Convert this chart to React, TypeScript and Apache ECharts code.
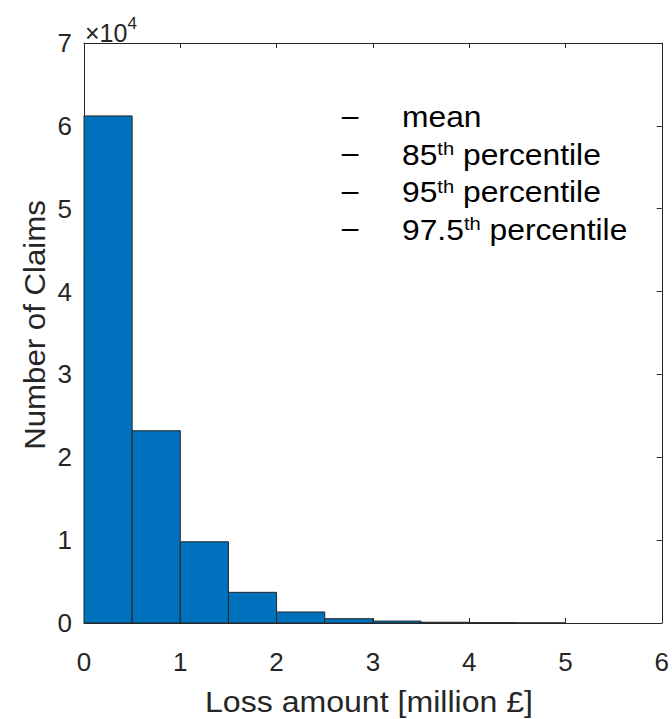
import React, { useEffect, useRef } from "react";
import * as echarts from "echarts";

// Histogram data (bins of 0.5 million £)
const binWidth = 0.5;
const binStarts = [0, 0.5, 1, 1.5, 2, 2.5, 3, 3.5, 4, 4.5];
const counts = [61200, 23200, 9800, 3700, 1330, 520, 230, 90, 40, 15];

const xMin = 0;
const xMax = 6;
const xInterval = 1;
const yMin = 0;
const yMax = 70000;
const yInterval = 10000;
const yScaleExp = 4;

const legendDash = "–";
const legendBases = ["mean", "85", "95", "97.5"];
const legendSups = ["", "th", "th", "th"];
const legendRests = ["", " percentile", " percentile", " percentile"];

const xAxisName = "Loss amount [million £]";
const yAxisName = "Number of Claims";

const FONT = "'Liberation Sans', Arial, Helvetica, sans-serif";
const AXIS_COLOR = "#262626";
const BAR_COLOR = "#0072BD";

export default function App() {
  const ref = useRef<HTMLDivElement>(null);

  useEffect(() => {
    if (!ref.current) return;
    const chart = echarts.init(ref.current, undefined, { renderer: "svg" });

    const data = binStarts.map((s, i) => [s, s + binWidth, counts[i]]);

    const gridLeft = 84;
    const gridTop = 43;
    const gridW = 578;
    const gridH = 580;

    const tickFont = 26;
    const nameFont = 30;
    const legendFont = 30;

    const legendRows = legendBases
      .map((b, i) => {
        const rowY = 115 + i * 37.6;
        const text = legendSups[i]
          ? `{b|${b}}{s|${legendSups[i]}}{b|${legendRests[i]}}`
          : `{b|${b}}`;
        return [
          {
            type: "text",
            x: 350,
            y: rowY,
            style: {
              text: legendDash,
              fill: "#000",
              font: `${legendFont}px ${FONT}`,
              align: "center",
              verticalAlign: "middle",
            },
          },
          {
            type: "text",
            x: 402,
            y: rowY,
            scaleX: 1.06,
            style: {
              text,
              align: "left",
              verticalAlign: "middle",
              rich: {
                b: { fontSize: legendFont, fontFamily: FONT, fill: "#000", color: "#000", lineHeight: 34, verticalAlign: "bottom" },
                s: { fontSize: 19, fontFamily: FONT, fill: "#000", color: "#000", lineHeight: 34, verticalAlign: "top", padding: [3, 0, 0, 0] },
              },
            },
          },
        ];
      })
      .flat();

    const mkXAxis = (pos: "bottom" | "top", showLabels: boolean) => ({
      type: "value",
      position: pos,
      min: xMin,
      max: xMax,
      interval: xInterval,
      axisLine: { show: true, onZero: false, lineStyle: { color: AXIS_COLOR, width: 1 } },
      axisTick: { show: true, inside: true, length: 5, lineStyle: { color: AXIS_COLOR } },
      axisLabel: {
        show: showLabels,
        color: AXIS_COLOR,
        fontSize: tickFont,
        fontFamily: FONT,
        margin: 26,
      },
      splitLine: { show: false },
    });

    const mkYAxis = (pos: "left" | "right", showLabels: boolean) => ({
      type: "value",
      position: pos,
      min: yMin,
      max: yMax,
      interval: yInterval,
      axisLine: { show: true, onZero: false, lineStyle: { color: AXIS_COLOR, width: 1 } },
      axisTick: { show: true, inside: true, length: 5, lineStyle: { color: AXIS_COLOR } },
      axisLabel: {
        show: showLabels,
        color: AXIS_COLOR,
        fontSize: tickFont,
        fontFamily: FONT,
        margin: 12,
        formatter: (v: number) => String(Math.round(v / Math.pow(10, yScaleExp))),
      },
      splitLine: { show: false },
    });

    chart.setOption({
      animation: false,
      backgroundColor: "#ffffff",
      grid: { left: gridLeft, top: gridTop, width: gridW, height: gridH, containLabel: false },
      xAxis: [mkXAxis("bottom", true), mkXAxis("top", false)],
      yAxis: [mkYAxis("left", true), mkYAxis("right", false)],
      series: [
        {
          type: "custom",
          xAxisIndex: 0,
          yAxisIndex: 0,
          data,
          encode: { x: [0, 1], y: 2 },
          renderItem: (params: any, api: any) => {
            const x0 = api.value(0);
            const x1 = api.value(1);
            const y = api.value(2);
            const p0 = api.coord([x0, 0]);
            const p1 = api.coord([x1, y]);
            return {
              type: "rect",
              shape: {
                x: p0[0],
                y: p1[1],
                width: p1[0] - p0[0],
                height: p0[1] - p1[1],
              },
              style: { fill: BAR_COLOR, stroke: "#262626", lineWidth: 1 },
            };
          },
        },
      ],
      graphic: [
        {
          type: "text",
          x: 85,
          y: 30,
          style: {
            text: `{a|×10}{s|${yScaleExp}}`,
            align: "left",
            verticalAlign: "middle",
            rich: {
              a: { fontSize: 25, fontFamily: FONT, fill: AXIS_COLOR, color: AXIS_COLOR, lineHeight: 30, verticalAlign: "bottom" },
              s: { fontSize: 17, fontFamily: FONT, fill: AXIS_COLOR, color: AXIS_COLOR, lineHeight: 30, verticalAlign: "top" },
            },
          },
        },
        {
          type: "text",
          x: 369,
          y: 702,
          scaleX: 1.07,
          style: {
            text: xAxisName,
            fill: AXIS_COLOR,
            font: `${nameFont}px ${FONT}`,
            align: "center",
            verticalAlign: "middle",
          },
        },
        {
          type: "text",
          x: 34,
          y: 325,
          rotation: Math.PI / 2,
          scaleX: 1.04,
          style: {
            text: yAxisName,
            fill: AXIS_COLOR,
            font: `${nameFont}px ${FONT}`,
            align: "center",
            verticalAlign: "middle",
          },
        },
        ...legendRows,
      ],
    } as any);

    return () => chart.dispose();
  }, []);

  return (
    <div
      ref={ref}
      style={{ position: "fixed", left: 0, top: 0, width: 672, height: 719, background: "#fff" }}
    />
  );
}
